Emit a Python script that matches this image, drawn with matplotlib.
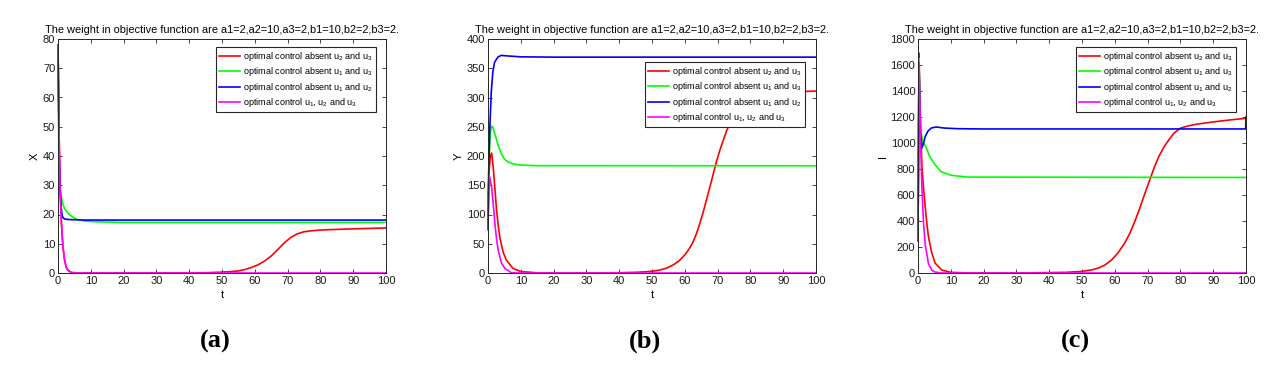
import matplotlib
matplotlib.use("Agg")
import matplotlib.pyplot as plt

plt.rcParams['font.family'] = ['Liberation Sans', 'DejaVu Sans']
plt.rcParams['mathtext.fontset'] = 'custom'
plt.rcParams['mathtext.rm'] = 'Liberation Sans'
plt.rcParams['mathtext.it'] = 'Liberation Sans'
plt.rcParams['mathtext.default'] = 'regular'

title_text = "The weight in objective function are a1=2,a2=10,a3=2,b1=10,b2=2,b3=2."
legend_labels = [r"optimal control absent u$_2$ and u$_3$",
                 r"optimal control absent u$_1$ and u$_3$",
                 r"optimal control absent u$_1$ and u$_2$",
                 r"optimal control u$_1$, u$_2$ and u$_3$"]
colors = ['#ff0000', '#00ff00', '#0000ff', '#ff00ff']
panel_letters = ['(a)', '(b)', '(c)']
ylabels = ['X', 'Y', 'I']
ylims = [80, 400, 1800]
ysteps = [10, 50, 200]

# ---- Panel (a): X ----
ta_red = [0, 0.3, 0.6, 1, 1.5, 2, 2.5, 3, 4, 6, 10, 30, 45, 50, 53, 55, 57, 59, 61, 63, 65, 67, 69, 71, 73, 75, 77, 80, 85, 90, 100]
xa_red = [78, 50, 30, 18, 9, 4.5, 2, 1, 0.2, 0, 0, 0, 0.1, 0.3, 0.5, 0.7, 1.2, 1.9, 2.8, 4.1, 5.8, 8.0, 10.3, 12.2, 13.4, 14.1, 14.4, 14.7, 14.9, 15.1, 15.4]
ta_green = [0, 0.3, 0.6, 1, 1.5, 2, 3, 4, 5, 6, 8, 10, 15, 20, 100]
xa_green = [78, 35, 29, 26, 23.5, 22, 20.5, 19.5, 18.8, 18.3, 17.8, 17.6, 17.4, 17.3, 17.3]
ta_blue = [0, 0.3, 0.6, 1, 1.3, 1.6, 2, 3, 5, 8, 100]
xa_blue = [78, 45, 30, 22, 19.5, 18.8, 18.5, 18.3, 18.2, 18.1, 18.1]
ta_mag = [0, 0.3, 0.6, 1, 1.5, 2, 2.5, 3, 4, 5, 100]
xa_mag = [78, 50, 30, 18, 9, 4.5, 2, 1, 0.2, 0, 0]

# ---- Panel (b): Y ----
tb_red = [0, 0.3, 0.7, 1.1, 1.6, 2.1, 2.6, 3.1, 3.6, 4.6, 5.6, 7.6, 10, 15, 20, 30, 40, 45, 48, 50.5, 52.4, 54.5, 56.5, 58.3, 60, 61.3, 62.6, 63.6, 64.6, 65.6, 66.6, 67.7, 68.7, 69.7, 70.7, 71.8, 72.8, 74, 75.5, 77, 79, 82, 86, 90, 95, 100]
yb_red = [75, 170, 200, 205, 180, 145, 108, 82, 61, 36, 22, 8, 2.5, 0.3, 0, 0, 0.5, 1.2, 2.0, 3.3, 5, 8.5, 14, 21, 31, 41, 54, 68, 85, 104, 125, 148, 170, 191, 210, 228, 244, 259, 273, 284, 294, 301, 306, 308.5, 310, 311]
tb_green = [0, 0.3, 0.7, 1.1, 1.5, 2.1, 3.1, 4.1, 5, 6, 8, 10, 15, 100]
yb_green = [75, 190, 240, 251, 249, 238, 218, 203, 195, 190, 186, 184.5, 183.5, 183.3]
tb_blue = [0, 0.2, 0.5, 1, 1.5, 2, 3, 4, 6, 10, 20, 100]
yb_blue = [75, 170, 240, 310, 345, 360, 369, 372, 371, 369.5, 369, 369]
tb_mag = [0, 0.1, 0.3, 0.6, 1.1, 1.6, 2.1, 2.6, 3.1, 4.1, 5.1, 7.1, 9, 100]
yb_mag = [74, 140, 167, 162, 147, 118, 85, 58, 39, 17, 8, 0.5, 0, 0]

# ---- Panel (c): I ----
tc_red = [0, 0.3, 0.7, 1.2, 1.7, 2.2, 2.7, 3.2, 4.2, 5.2, 7.2, 10, 15, 30, 45, 50, 53, 55, 57, 59, 61, 63, 64.5, 66, 67.5, 69, 70.5, 72, 73.5, 75, 76.5, 78, 80, 82.5, 85, 90, 95, 100]
yc_red = [250, 1692, 1200, 820, 650, 508, 380, 277, 154, 77, 23, 5, 1, 0, 5, 12, 24, 38, 62, 100, 155, 230, 300, 390, 490, 600, 705, 810, 900, 970, 1025, 1075, 1114, 1132, 1145, 1162, 1177, 1190]
tc_green = [0, 0.3, 0.7, 1, 1.5, 2.5, 3.5, 5, 7, 10, 15, 100]
yc_green = [250, 1650, 1200, 1070, 1010, 965, 900, 840, 780, 752, 738, 735]
tc_blue = [0, 0.3, 0.7, 1.2, 1.7, 2.2, 3, 4, 5.5, 8, 12, 20, 99.9, 100]
yc_blue = [250, 1600, 1100, 962, 1000, 1050, 1090, 1115, 1123, 1115, 1110, 1108, 1108, 1200]
tc_mag = [0, 0.3, 0.8, 1.2, 1.7, 2.2, 3.2, 4.2, 5.2, 7, 9, 100]
yc_mag = [250, 1620, 1000, 650, 380, 220, 70, 22, 7, 0.5, 0, 0]

panels = [
    [(ta_red, xa_red), (ta_green, xa_green), (ta_blue, xa_blue), (ta_mag, xa_mag)],
    [(tb_red, yb_red), (tb_green, yb_green), (tb_blue, yb_blue), (tb_mag, yb_mag)],
    [(tc_red, yc_red), (tc_green, yc_green), (tc_blue, yc_blue), (tc_mag, yc_mag)],
]

W, H = 1275, 372
fig = plt.figure(figsize=(W / 100, H / 100), dpi=100)
lefts = [58, 488, 918]
ax_w, ax_top, ax_bot = 328, 39, 273
legend_offsets = [(10, 8), (11, 23), (10, 8)]
axcol = '#262626'

for i in range(3):
    ax = fig.add_axes([lefts[i] / W, 1 - ax_bot / H, ax_w / W, (ax_bot - ax_top) / H])
    for (t, v), c, lab in zip(panels[i], colors, legend_labels):
        ax.plot(t, v, color=c, lw=1.2, label=lab, clip_on=False, solid_joinstyle='round')
    ax.set_xlim(0, 100)
    ax.set_ylim(0, ylims[i])
    ax.set_xticks(range(0, 101, 10))
    ax.set_yticks(range(0, ylims[i] + 1, ysteps[i]))
    ax.tick_params(direction='in', top=True, right=True, length=3, width=0.6,
                   labelsize=8, colors=axcol, labelcolor='#1a1a1a', pad=2)
    for s in ax.spines.values():
        s.set_color(axcol)
        s.set_linewidth(0.7)
    ax.set_title(title_text, fontsize=7.9, pad=4.5)
    ax.set_xlabel('t', fontsize=8, labelpad=3)
    ax.set_ylabel(ylabels[i], fontsize=8, labelpad=2)
    dx, dy = legend_offsets[i]
    leg = ax.legend(loc='upper right', bbox_to_anchor=(1 - dx / ax_w, 1 - dy / (ax_bot - ax_top)),
                    borderaxespad=0, fontsize=6.5, frameon=True, fancybox=False,
                    handlelength=2.4, handletextpad=0.3, labelspacing=0.25,
                    borderpad=0.35, framealpha=1)
    leg.get_frame().set_edgecolor('#262626')
    leg.get_frame().set_linewidth(0.8)
    cx = (lefts[i] + ax_w / 2 - 7) / W
    fig.text(cx, 1 - 341 / H, panel_letters[i], fontsize=19, fontweight='bold',
             family='Liberation Serif', ha='center', va='center')

fig.savefig('out.png', dpi=100)
